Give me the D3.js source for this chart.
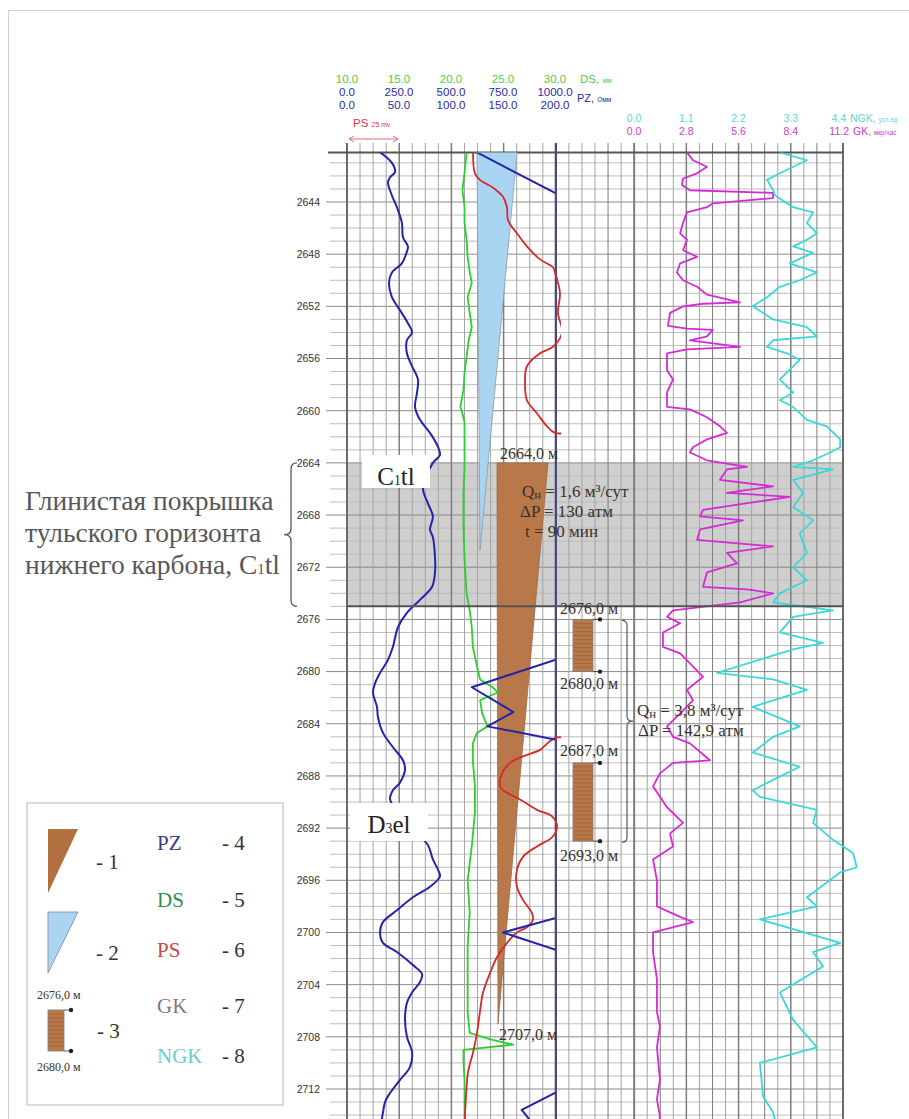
<!DOCTYPE html>
<html>
<head>
<meta charset="utf-8">
<script src="https://cdn.jsdelivr.net/npm/d3@7"></script>
<style>
  body { margin: 0; background: #fff; }
  svg { display: block; }
</style>
</head>
<body>
<svg id="chart" width="909" height="1119"></svg>
<script>
// ---------------- data ----------------
const depthTicks = [2644, 2648, 2652, 2656, 2660, 2664, 2668, 2672, 2676, 2680, 2684, 2688, 2692, 2696, 2700, 2704, 2708, 2712];
const dsTicks = [10, 15, 20, 25, 30];
const pzDeepTicks = [0, 250, 500, 750, 1000];
const pzShallowTicks = [0, 50, 100, 150, 200];
const ngkTicks = [0, 1.1, 2.2, 3.3, 4.4];
const gkTicks = [0, 2.8, 5.6, 8.4, 11.2];

// PZ, Ohm·m (0–1000 scale)
const pzDeep = [[2640.2,160],[2641.0,216],[2641.7,231],[2642.1,207],[2642.5,197],[2643.5,216],[2644.4,240],[2645.6,264],[2646.7,269],[2647.4,293],[2647.8,288],[2648.7,264],[2649.4,216],[2650.2,202],[2651.3,216],[2652.3,255],[2653.3,293],[2654.0,313],[2654.6,288],[2655.6,288],[2656.6,313],[2657.6,341],[2658.6,337],[2659.7,327],[2660.7,351],[2661.7,399],[2662.8,438],[2663.4,447],[2664.0,413],[2665.9,365],[2667.1,389],[2668.1,413],[2669.1,399],[2669.7,413],[2671.2,423],[2672.4,423],[2673.5,409],[2674.5,351],[2675.5,288],[2676.6,245],[2678.1,221],[2679.1,197],[2680.1,159],[2680.9,135],[2681.6,125],[2682.7,144],[2683.5,149],[2684.7,173],[2685.8,221],[2686.8,269],[2687.5,279],[2688.5,255],[2689.1,221],[2689.8,207],[2691.0,255],[2692.3,330],[2693.3,389],[2694.4,413],[2695.2,438],[2695.7,447],[2696.5,399],[2697.3,317],[2698.3,240],[2699.2,173],[2700.0,159],[2700.8,173],[2701.5,240],[2702.5,317],[2703.2,361],[2703.8,351],[2704.6,313],[2705.4,288],[2706.7,279],[2708.0,288],[2709.2,313],[2710.3,303],[2711.3,255],[2712.3,207],[2713.0,183],[2713.8,173],[2714.7,163]];

// PZ, Ohm·m (0–200 scale, off-scale parts run past the track edge)
const pzShallow = [[2640.2,125],[2643.3,200],[2644.0,218],[2678.5,218],[2679.1,200],[2681.2,120],[2683.1,160],[2684.2,135],[2685.2,200],[2685.8,218],[2698.3,218],[2698.9,200],[2700.0,150],[2701.3,200],[2701.9,218],[2711.7,218],[2712.3,200],[2713.6,168],[2714.6,178]];

// DS (caliper)
const ds = [[2640.2,21.5],[2641.8,21.3],[2643.1,21.1],[2644.4,21.3],[2645.6,21.3],[2646.9,21.5],[2648.2,21.6],[2649.4,21.8],[2650.2,22.0],[2651.3,21.6],[2652.5,21.8],[2653.6,22.0],[2654.6,21.7],[2655.9,21.5],[2657.1,21.3],[2658.4,21.2],[2659.7,20.9],[2660.2,21.1],[2660.9,21.3],[2662.2,21.3],[2664.3,21.3],[2666.3,21.2],[2668.9,21.2],[2671.4,21.3],[2674.0,21.5],[2675.3,21.8],[2676.6,22.0],[2678.1,22.1],[2679.6,22.5],[2680.6,22.8],[2681.2,24.0],[2681.6,24.5],[2682.2,22.8],[2683.2,23.0],[2684.2,23.5],[2684.7,22.5],[2685.5,22.1],[2686.8,22.1],[2688.8,22.3],[2690.8,22.3],[2693.4,22.0],[2696.0,21.6],[2698.5,21.8],[2701.1,21.6],[2703.6,21.6],[2706.1,21.6],[2707.7,21.8],[2708.2,23.8],[2708.6,26.0],[2709.0,21.2],[2710.0,21.2],[2711.3,21.3],[2713.8,21.3],[2714.7,21.3]];

// PS, mV (relative)
const ps = [[2640.2,60.6],[2641.8,61.5],[2642.3,63.9],[2642.9,70.2],[2643.6,75.0],[2644.4,76.9],[2645.4,77.4],[2646.4,81.7],[2647.4,86.5],[2648.4,92.8],[2649.0,99.0],[2649.4,100.0],[2651.0,102.4],[2652.5,101.4],[2654.0,103.4],[2655.1,99.0],[2655.6,92.8],[2656.6,86.5],[2657.6,85.6],[2659.2,86.5],[2660.2,91.3],[2661.2,96.2],[2661.7,100.0],[2662.0,135],[2684.7,135],[2685.1,100],[2686.0,92.8],[2686.5,84.6],[2687.0,78.4],[2687.8,74.5],[2688.8,73.6],[2689.1,75.0],[2689.8,83.2],[2690.6,91.3],[2691.1,98.6],[2691.9,101.0],[2692.7,98.6],[2693.4,91.3],[2694.2,84.6],[2695.2,81.7],[2696.5,81.7],[2697.5,84.6],[2698.5,88.9],[2699.0,89.4],[2699.6,86.5],[2700.0,81.7],[2700.8,76.9],[2701.9,72.1],[2703.1,68.8],[2704.6,65.4],[2706.1,63.9],[2707.7,62.5],[2709.2,60.6],[2710.7,58.2],[2712.6,57.2],[2714.1,56.7],[2714.8,56.5]];

// GK, µR/h
const gk = [[2640.2,2.84],[2640.8,3.16],[2641.3,3.91],[2641.8,3.38],[2642.2,2.63],[2642.7,2.57],[2643.1,3.00],[2643.3,7.45],[2643.7,7.45],[2644.1,4.23],[2644.4,3.91],[2644.8,2.84],[2645.6,2.63],[2646.4,2.47],[2646.9,2.84],[2647.7,2.63],[2648.2,3.38],[2648.7,2.47],[2649.4,2.30],[2650.0,2.63],[2650.5,3.38],[2651.1,3.91],[2651.7,5.68],[2651.8,3.70],[2652.0,2.63],[2652.5,1.93],[2653.5,1.82],[2653.7,2.84],[2653.8,4.23],[2654.3,3.91],[2654.6,3.00],[2655.1,5.68],[2655.3,2.84],[2655.6,1.77],[2656.9,1.77],[2657.6,2.09],[2658.6,1.77],[2659.7,1.77],[2659.9,3.00],[2660.5,3.91],[2661.2,4.61],[2661.7,4.98],[2662.2,3.91],[2662.8,3.16],[2663.2,3.00],[2663.8,3.91],[2664.3,6.06],[2664.5,4.98],[2665.3,4.61],[2665.8,7.45],[2666.3,4.98],[2666.6,8.36],[2667.6,3.70],[2668.1,3.54],[2668.4,5.84],[2669.1,3.54],[2669.9,3.38],[2670.4,7.45],[2670.9,4.98],[2671.7,5.52],[2672.4,3.91],[2673.5,3.70],[2673.7,6.06],[2674.0,7.45],[2674.7,5.68],[2675.3,2.09],[2675.8,1.77],[2676.3,2.47],[2677.0,1.55],[2678.1,1.55],[2678.6,2.47],[2679.6,3.16],[2680.4,3.70],[2681.4,2.84],[2682.2,3.16],[2683.2,2.47],[2684.2,1.77],[2685.0,2.09],[2685.5,3.00],[2686.8,4.07],[2687.0,2.09],[2687.8,1.39],[2688.8,1.02],[2690.4,1.77],[2691.6,2.63],[2692.4,1.93],[2693.4,2.09],[2694.4,1.02],[2696.0,1.23],[2698.0,1.23],[2698.8,2.47],[2699.2,3.16],[2700.0,1.02],[2701.5,1.02],[2703.6,1.23],[2706.1,1.23],[2707.2,1.39],[2708.8,1.23],[2711.3,1.39],[2712.8,1.23],[2714.1,1.39],[2714.8,1.30]];

// NGK, conventional units
const ngk = [[2640.2,3.07],[2640.8,3.64],[2641.8,3.07],[2642.3,2.80],[2643.1,2.93],[2643.5,2.97],[2644.4,3.35],[2644.8,3.77],[2645.6,3.64],[2646.4,3.85],[2646.9,3.64],[2647.4,3.35],[2647.9,3.77],[2648.7,3.28],[2649.4,3.85],[2650.0,3.49],[2650.5,3.07],[2651.3,2.80],[2652.0,2.50],[2653.0,2.93],[2653.6,3.64],[2654.3,3.85],[2654.6,2.93],[2655.1,2.80],[2655.6,3.22],[2656.1,3.49],[2656.6,3.35],[2657.6,3.07],[2658.6,3.35],[2659.2,3.07],[2659.7,3.35],[2660.7,3.64],[2661.2,4.06],[2662.2,4.34],[2662.8,4.34],[2663.2,4.13],[2663.8,3.77],[2664.3,3.35],[2664.5,4.19],[2665.3,3.35],[2666.3,3.56],[2667.4,3.35],[2668.4,3.77],[2669.4,3.49],[2670.9,3.64],[2672.0,3.35],[2673.0,3.64],[2674.0,3.07],[2674.7,2.93],[2675.3,4.19],[2675.8,3.35],[2677.0,3.07],[2677.8,3.98],[2678.3,3.35],[2680.1,1.75],[2680.6,2.93],[2681.4,3.64],[2682.2,2.93],[2682.7,2.50],[2684.2,3.49],[2685.0,2.93],[2686.2,2.50],[2687.3,3.49],[2688.3,2.93],[2689.1,2.50],[2689.6,2.65],[2690.6,3.85],[2691.6,3.77],[2692.9,4.19],[2693.9,4.61],[2695.0,4.69],[2695.4,4.34],[2697.3,3.64],[2698.0,3.85],[2699.0,2.65],[2700.8,4.34],[2701.5,3.77],[2702.6,3.98],[2704.6,3.07],[2706.7,3.35],[2708.8,3.85],[2710.0,2.65],[2712.6,2.72],[2713.8,2.93],[2714.8,3.00]];

// formation intervals, tests and perforations
const caprock = { top: 2664, bottom: 2675 };
const formations = [{ base: "C", sub: "1", rest: "tl", depth: 2665 }, { base: "D", sub: "3", rest: "el", depth: 2691.7 }];
const inflow = { top: 2664, bottom: 2707 };
const absorption = { top: 2640.2, bottom: 2670.7 };
const perforations = [[2676, 2680], [2687, 2693]];
const test1 = ["1,6", "130", "90"];
const test2 = ["3,8", "142,9"];

// ---------------- scales ----------------
const svg = d3.select("#chart");
const topDepth = 2640.2;
const y = d3.scaleLinear().domain([2644, 2712]).range([202, 1089]);
const cell = d3.scaleLinear().domain([0, 38]).range([347, 843]);
const xPZ = d3.scaleLinear().domain([0, 1000]).range([347, 555]);
const xPZ2 = d3.scaleLinear().domain([0, 200]).range([347, 555]);
const xDS = d3.scaleLinear().domain([10, 30]).range([347, 555]);
const xPS = d3.scaleLinear().domain([0, 100]).range([347, 555]);
const xGK = d3.scaleLinear().domain([0, 11.2]).range([634, 843]);
const xNGK = d3.scaleLinear().domain([0, 4.4]).range([634, 843]);

const serif = "'Liberation Serif', 'Times New Roman', serif";
const sans = "'Liberation Sans', Arial, sans-serif";

const defs = svg.append("defs");
defs.append("clipPath").attr("id", "clipT1").append("rect")
  .attr("x", 347).attr("y", y(topDepth)).attr("width", 208).attr("height", 1000);
defs.append("clipPath").attr("id", "clipPS").append("rect")
  .attr("x", 347).attr("y", y(topDepth)).attr("width", 214).attr("height", 1000);
defs.append("clipPath").attr("id", "clipAll").append("rect")
  .attr("x", 300).attr("y", y(topDepth)).attr("width", 600).attr("height", 1000);

// page frame
svg.append("rect").attr("x", 8.5).attr("y", 10.5).attr("width", 940).attr("height", 1140)
  .attr("fill", "none").attr("stroke", "#cfcfcf");

// caprock shading
svg.append("rect")
  .attr("x", cell(0)).attr("y", y(caprock.top))
  .attr("width", cell(38) - cell(0)).attr("height", y(caprock.bottom) - y(caprock.top))
  .attr("fill", "#cfcfcf");

// horizontal grid (1 m)
const gridG = svg.append("g");
gridG.selectAll("line.h").data(d3.range(2641, 2716))
  .join("line").attr("class", "h")
  .attr("x1", d => depthTicks.includes(d) ? 326 : 330).attr("x2", cell(38))
  .attr("y1", d => y(d)).attr("y2", d => y(d))
  .attr("stroke", d => depthTicks.includes(d) ? "#8a8a8a" : "#bdbdbd")
  .attr("stroke-width", 1);

// vertical grid
gridG.selectAll("line.v").data(d3.range(0, 39))
  .join("line").attr("class", "v")
  .attr("x1", d => cell(d)).attr("x2", d => cell(d))
  .attr("y1", 143).attr("y2", 1119)
  .attr("stroke", d => (d === 0 || d === 38) ? "#6a6a6a" : ((d % 4 === 0 || d === 22 || d === 26 || d === 30 || d === 34) ? "#7d7d7d" : "#a3a3a3"))
  .attr("stroke-width", d => (d === 0 || d === 38 || d === 22) ? 2 : ((d % 4 === 0 && d < 16) || [26, 30, 34].includes(d) ? 1.5 : 1));

// track separator PZ/annotation
gridG.append("line").attr("x1", cell(16)).attr("x2", cell(16)).attr("y1", 143).attr("y2", 1119)
  .attr("stroke", "#45457a").attr("stroke-width", 2.2);

// top border
gridG.append("line").attr("x1", 328).attr("x2", cell(38)).attr("y1", y(topDepth)).attr("y2", y(topDepth))
  .attr("stroke", "#555").attr("stroke-width", 2);

// depth axis
const axis = d3.axisLeft(y).tickValues(depthTicks).tickSize(0).tickFormat(d3.format("d"));
const axG = svg.append("g").attr("transform", "translate(324,0)").call(axis);
axG.select(".domain").remove();
axG.selectAll("text").attr("font-family", sans).attr("font-size", 10.5).attr("fill", "#333")
  .attr("dx", -1);

// absorption wedge (blue)
svg.append("path")
  .attr("d", d3.line()([[477, y(absorption.top)], [517, y(absorption.top)], [480, y(absorption.bottom)]]) + "Z")
  .attr("fill", "#a9d5f2").attr("stroke", "#8a9aa8").attr("stroke-width", 0.8);

// inflow wedge (brown)
svg.append("path")
  .attr("d", d3.line()([[497, y(inflow.top)], [548, y(inflow.top)], [498, y(inflow.bottom)]]) + "Z")
  .attr("fill", "#b8784a").attr("stroke", "#9a6a48").attr("stroke-width", 0.8);

// perforations
function perfSymbol(g, x, yTop, yBot, w) {
  g.append("rect").attr("x", x).attr("y", yTop).attr("width", w).attr("height", yBot - yTop)
    .attr("fill", "#b8784a").attr("stroke", "#7a7a7a").attr("stroke-width", 0.8);
  for (let yy = yTop + 4; yy < yBot - 1; yy += 4) {
    g.append("line").attr("x1", x + 1).attr("x2", x + w - 1).attr("y1", yy).attr("y2", yy)
      .attr("stroke", "#94603a").attr("stroke-width", 0.7);
  }
  [yTop, yBot].forEach(yy => {
    g.append("line").attr("x1", x + w).attr("x2", x + w + 7).attr("y1", yy).attr("y2", yy)
      .attr("stroke", "#333").attr("stroke-width", 0.8);
    g.append("circle").attr("cx", x + w + 7).attr("cy", yy).attr("r", 2.2).attr("fill", "#222");
  });
}
const perfG = svg.append("g");
perforations.forEach(([a, b]) => perfSymbol(perfG, 573, y(a), y(b), 20));

// curves
const curveG = svg.append("g").attr("clip-path", "url(#clipAll)");
function drawCurve(data, xs, color, width, curve, clip) {
  const p = curveG.append("path").datum(data)
    .attr("d", d3.line().x(d => xs(d[1])).y(d => y(d[0])).curve(curve))
    .attr("fill", "none").attr("stroke", color).attr("stroke-width", width)
    .attr("stroke-linejoin", "round");
  if (clip) p.attr("clip-path", `url(#${clip})`);
}
drawCurve(ds, xDS, "#2ccf2c", 1.8, d3.curveLinear);
drawCurve(ps, xPS, "#d42a2a", 1.8, d3.curveCatmullRom, "clipPS");
drawCurve(pzDeep, xPZ, "#2424a8", 2, d3.curveCatmullRom);
drawCurve(pzShallow, xPZ2, "#2424a8", 2, d3.curveLinear, "clipT1");
drawCurve(gk, xGK, "#d62ad6", 1.8, d3.curveLinear);
drawCurve(ngk, xNGK, "#3ad8d8", 1.8, d3.curveLinear);

// caprock base line
svg.append("line").attr("x1", cell(0)).attr("x2", cell(38))
  .attr("y1", y(caprock.bottom)).attr("y2", y(caprock.bottom))
  .attr("stroke", "#555").attr("stroke-width", 2);

// formation labels
function subText(sel, parts, size) {
  sel.append("tspan").text(parts.base);
  sel.append("tspan").text(parts.sub).attr("font-size", size * 0.55);
  sel.append("tspan").text(parts.rest);
}
const boxes = [[362, 455, 68, 33], [350, 803, 78, 38]];
formations.forEach((f, i) => {
  const [bx, by, bw, bh] = boxes[i];
  svg.append("rect").attr("x", bx).attr("y", by).attr("width", bw).attr("height", bh).attr("fill", "#fff");
  const t = svg.append("text").attr("x", bx + bw / 2).attr("y", y(f.depth) + 9)
    .attr("text-anchor", "middle").attr("font-family", serif).attr("font-size", 25).attr("fill", "#222");
  subText(t, f, 25);
});

// annotation text
const ann = svg.append("g").attr("font-family", serif).attr("fill", "#3b302a");
function depthLabel(x, yy, txt, size) {
  ann.append("text").attr("x", x).attr("y", yy).attr("font-size", size).text(txt);
}
depthLabel(500, y(inflow.top) - 4, "2664,0 м", 16);
depthLabel(499, y(inflow.bottom) + 16, "2707,0 м", 16);
depthLabel(560, y(perforations[0][0]) - 5, "2676,0 м", 16);
depthLabel(560, y(perforations[0][1]) + 17, "2680,0 м", 16);
depthLabel(560, y(perforations[1][0]) - 7, "2687,0 м", 16);
depthLabel(560, y(perforations[1][1]) + 20, "2693,0 м", 16);

function qLine(x, yy, value, size) {
  const t = ann.append("text").attr("x", x).attr("y", yy).attr("font-size", size);
  t.append("tspan").text("Q");
  t.append("tspan").text("н").attr("font-size", size * 0.75).attr("dy", 2);
  t.append("tspan").text(` = ${value} м³/сут`).attr("dy", -2);
}
qLine(522, 497, test1[0], 17);
ann.append("text").attr("x", 520).attr("y", 517).attr("font-size", 17).text(`ΔP = ${test1[1]} атм`);
ann.append("text").attr("x", 525).attr("y", 537).attr("font-size", 17).text(`t = ${test1[2]} мин`);
qLine(637, 716, test2[0], 17);
ann.append("text").attr("x", 638).attr("y", 736).attr("font-size", 17).text(`ΔP = ${test2[1]} атм`);

// perforation bracket
{
  const a = y(perforations[0][0]) + 1, b = y(perforations[1][1]) + 1, m = y(2683.8);
  svg.append("path")
    .attr("d", `M622,${a} Q627,${a} 627,${a + 5} L627,${m - 5} Q627,${m} 633,${m} Q627,${m} 627,${m + 5} L627,${b - 5} Q627,${b} 622,${b}`)
    .attr("fill", "none").attr("stroke", "#555").attr("stroke-width", 1.2);
}

// header
const head = svg.append("g").attr("font-family", sans);
function headRow(vals, xs, yy, color, size, lastEnd) {
  head.selectAll(null).data(vals).join("text")
    .attr("x", (d, i) => (lastEnd && i === vals.length - 1) ? lastEnd : xs(d)).attr("y", yy)
    .attr("text-anchor", (d, i) => (lastEnd && i === vals.length - 1) ? "end" : "middle")
    .attr("font-size", size).attr("fill", color).text(d => d3.format(".1f")(d));
}
headRow(dsTicks, xDS, 83, "#4ccc4c", 11.5);
headRow(pzDeepTicks, xPZ, 96, "#2a2aa6", 11.5);
headRow(pzShallowTicks, xPZ2, 109, "#2a2aa6", 11.5);
headRow(ngkTicks, xNGK, 122, "#5cd6d6", 10.5, 846);
headRow(gkTicks, xGK, 135, "#cc3ccc", 10.5, 849);

function unitLabel(x, yy, name, unit, color, size) {
  const t = head.append("text").attr("x", x).attr("y", yy).attr("fill", color).attr("font-size", size);
  t.append("tspan").text(name);
  t.append("tspan").text(unit).attr("font-size", size * 0.6);
}
unitLabel(580, 83, "DS, ", "мм", "#4ccc4c", 11.5);
unitLabel(577, 102, "PZ, ", "Омм", "#2a2aa6", 11);
unitLabel(850, 122, "NGK, ", "усл.ед", "#5cd6d6", 10.5);
unitLabel(853, 135, "GK, ", "мкр/час", "#cc3ccc", 10.5);
unitLabel(353, 127, "PS ", "25 mv", "#d83a3a", 11.5);

// PS scale bar
{
  const x0 = xPS(1), x1 = xPS(24.5), yy = 139;
  head.append("line").attr("x1", x0).attr("x2", x1).attr("y1", yy).attr("y2", yy)
    .attr("stroke", "#e07070").attr("stroke-width", 1);
  [[x0, 1], [x1, -1]].forEach(([x, s]) => {
    head.append("path").attr("d", `M${x + 5 * s},${yy - 3} L${x},${yy} L${x + 5 * s},${yy + 3}`)
      .attr("fill", "none").attr("stroke", "#e07070").attr("stroke-width", 1);
  });
}

// left caption with brace
const cap = svg.append("g").attr("font-family", serif).attr("font-size", 27.5).attr("fill", "#585858");
cap.append("text").attr("x", 25).attr("y", 510).text("Глинистая покрышка");
cap.append("text").attr("x", 25).attr("y", 542).text("тульского горизонта");
{
  const t = cap.append("text").attr("x", 25).attr("y", 574);
  t.append("tspan").text("нижнего карбона, C");
  t.append("tspan").text("1").attr("font-size", 15);
  t.append("tspan").text("tl");
}
{
  const a = y(caprock.top), b = y(caprock.bottom), m = (a + b) / 2;
  svg.append("path")
    .attr("d", `M297,${a} Q291,${a} 291,${a + 6} L291,${m - 6} Q291,${m} 284,${m} Q291,${m} 291,${m + 6} L291,${b - 6} Q291,${b} 297,${b}`)
    .attr("fill", "none").attr("stroke", "#555").attr("stroke-width", 1.3);
}

// legend
const leg = svg.append("g");
leg.append("rect").attr("x", 27).attr("y", 803).attr("width", 256).attr("height", 302)
  .attr("fill", "#fff").attr("stroke", "#c4c4c4").attr("stroke-width", 1.2);
leg.append("path").attr("d", "M48,829 L78,829 L48,893 Z").attr("fill", "#b0703f");
leg.append("path").attr("d", "M48,912 L78,912 L48,973 Z").attr("fill", "#a9d5f2")
  .attr("stroke", "#8f9aa5").attr("stroke-width", 1);
perfSymbol(leg, 48, 1010, 1051, 16);
const lt = leg.append("g").attr("font-family", serif);
lt.append("text").attr("x", 37).attr("y", 999).attr("font-size", 12).attr("fill", "#333").text("2676,0 м");
lt.append("text").attr("x", 37).attr("y", 1071).attr("font-size", 12).attr("fill", "#333").text("2680,0 м");
[["- 1", 96, 869], ["- 2", 96, 960], ["- 3", 97, 1038]].forEach(([s, x, yy]) =>
  lt.append("text").attr("x", x).attr("y", yy).attr("font-size", 21).attr("fill", "#333").text(s));
const legendNames = [["PZ", "#3b3b8c", 850], ["DS", "#2f8f4f", 907], ["PS", "#d04545", 957], ["GK", "#8a7682", 1013], ["NGK", "#6ccccc", 1063]];
legendNames.forEach(([name, color, yy], i) => {
  lt.append("text").attr("x", 157).attr("y", yy).attr("font-size", 21).attr("fill", color).text(name);
  lt.append("text").attr("x", 222).attr("y", yy).attr("font-size", 21).attr("fill", "#333").text(`- ${i + 4}`);
});
</script>
</body>
</html>
